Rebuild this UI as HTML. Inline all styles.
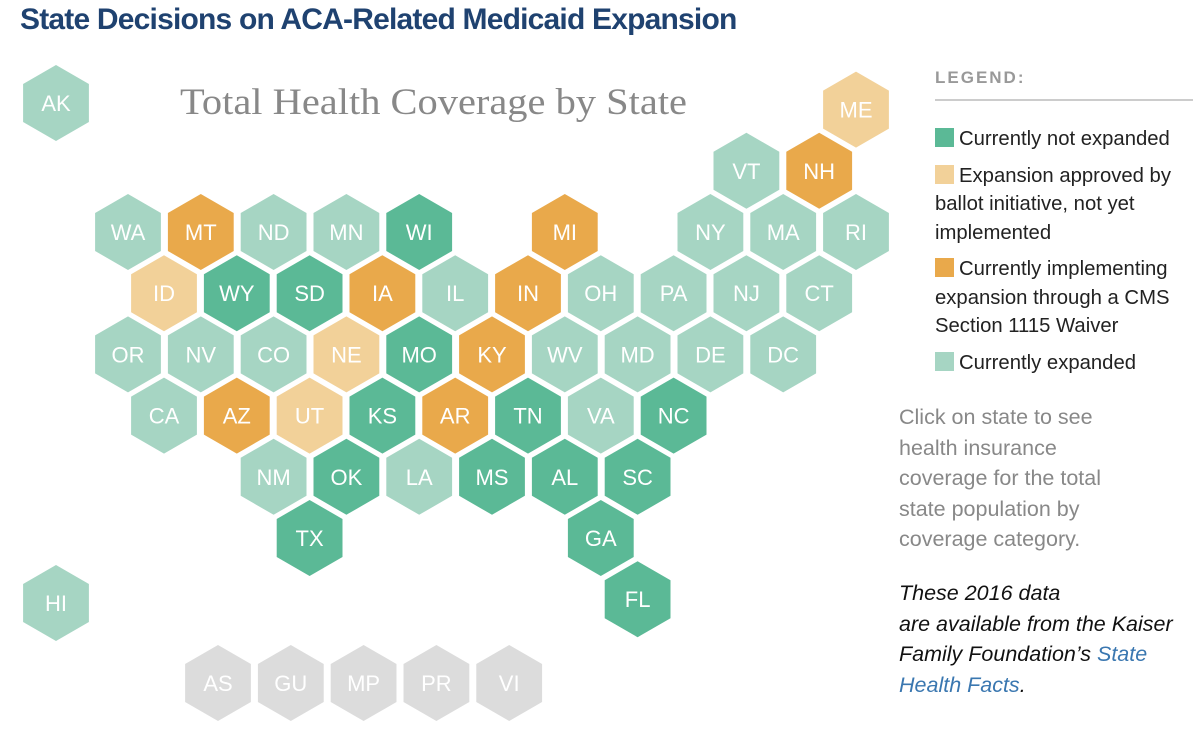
<!DOCTYPE html>
<html><head><meta charset="utf-8"><style>
body{margin:0;width:1200px;height:734px;background:#fff;overflow:hidden;font-family:"Liberation Sans",sans-serif;position:relative}
#title{position:absolute;left:20px;top:3px;font-size:30px;font-weight:bold;color:#1f4270;letter-spacing:-0.8px;white-space:nowrap}
svg{position:absolute;left:0;top:0}
#legend{position:absolute;left:935px;top:66px;width:262px;font-size:20.3px;color:#222;line-height:28.5px}
.lh{font-weight:bold;color:#999;font-size:17px;letter-spacing:2px;line-height:23px;padding-bottom:10px;border-bottom:2px solid #ccc;width:258px;margin-bottom:24px}
.li{margin-bottom:8px}
.sw{display:inline-block;width:19px;height:19px;vertical-align:-2px;margin-right:5px}
#note{position:absolute;left:899px;top:402px;font-size:21.5px;color:#888;line-height:30.5px;width:215px}
#src{position:absolute;left:899px;top:578px;font-size:21.5px;font-style:italic;color:#111;line-height:30.5px;width:295px}
#src a{color:#3a77b0;text-decoration:none}
</style></head><body>
<div id="title">State Decisions on ACA-Related Medicaid Expansion</div>
<svg id="map" width="1200" height="734">
<text x="180" y="114" textLength="507" lengthAdjust="spacingAndGlyphs" font-family="Liberation Serif,serif" font-size="37" fill="#888">Total Health Coverage by State</text>
</svg>
<div id="legend">
<div class="lh">LEGEND:</div>
<div class="li"><span class="sw" style="background:#5bb996"></span>Currently not expanded</div>
<div class="li"><span class="sw" style="background:#f2d199"></span>Expansion approved by ballot initiative, not yet implemented</div>
<div class="li"><span class="sw" style="background:#e9a94b"></span>Currently implementing expansion through a CMS Section 1115 Waiver</div>
<div class="li"><span class="sw" style="background:#a6d5c3"></span>Currently expanded</div>
</div>
<div id="note">Click on state to see health insurance coverage for the total state population by coverage category.</div>
<div id="src">These 2016 data<br>are available from the Kaiser Family Foundation’s <a href="#">State<br>Health Facts</a>.</div>
<script>
const states=["ME","VT","NH","WA","MT","ND","MN","WI","MI","NY","MA","RI","ID","WY","SD","IA","IL","IN","OH","PA","NJ","CT","OR","NV","CO","NE","MO","KY","WV","MD","DE","DC","CA","AZ","UT","KS","AR","TN","VA","NC","NM","OK","LA","MS","AL","SC","TX","GA","FL"];
const rows=[-1,0,0,1,1,1,1,1,1,1,1,1,2,2,2,2,2,2,2,2,2,2,3,3,3,3,3,3,3,3,3,3,4,4,4,4,4,4,4,4,5,5,5,5,5,5,6,6,7];
const cols=[10,8,9,0,1,2,3,4,6,8,9,10,0,1,2,3,4,5,6,7,8,9,0,1,2,3,4,5,6,7,8,9,0,1,2,3,4,5,6,7,2,3,4,5,6,7,2,6,7];
const status=["b","e","w","e","w","e","e","n","w","e","e","e","b","n","n","w","e","w","e","e","e","e","e","e","e","b","n","w","e","e","e","e","e","w","b","n","w","n","e","n","e","n","e","n","n","n","n","n","n"];
const extras=["AK","HI"];
const extraX=[56,56];
const extraY=[103,603];
const territories=["AS","GU","MP","PR","VI"];
const colors={n:"#5bb996",b:"#f2d199",w:"#e9a94b",e:"#a6d5c3",t:"#dcdcdc"};
const svg=document.getElementById('map');
const NS="http://www.w3.org/2000/svg";
const DX=72.8,DY=61.2;
function hx(r,c){return (r%2===0?164:128)+c*DX;}
function hy(r){return 232+(r-1)*DY;}
function hex(cx,cy,fill,label,name){
  const g=document.createElementNS(NS,'g');
  
  
  const R=38;let pts=[];
  for(let i=0;i<6;i++){const a=Math.PI/180*(60*i-90);pts.push((cx+R*Math.cos(a)).toFixed(1)+','+(cy+R*Math.sin(a)).toFixed(1));}
  const p=document.createElementNS(NS,'polygon');
  p.setAttribute('points',pts.join(' '));p.setAttribute('fill',fill);
  const t=document.createElementNS(NS,'text');
  t.setAttribute('x',cx);t.setAttribute('y',cy+8);t.setAttribute('text-anchor','middle');
  t.setAttribute('font-size','22');t.setAttribute('fill','#fff');t.setAttribute('font-family','Liberation Sans,sans-serif');
  t.textContent=label;
  g.appendChild(p);g.appendChild(t);svg.appendChild(g);
}
states.forEach((s,i)=>hex(hx(rows[i],cols[i]),hy(rows[i]),colors[status[i]],s,'state-'+s.toLowerCase()));
extras.forEach((s,i)=>hex(extraX[i],extraY[i],colors.e,s,'state-'+s.toLowerCase()));
territories.forEach((s,i)=>hex(218+i*72.8,683,colors.t,s,'territory-'+s.toLowerCase()));
</script>
</body></html>
